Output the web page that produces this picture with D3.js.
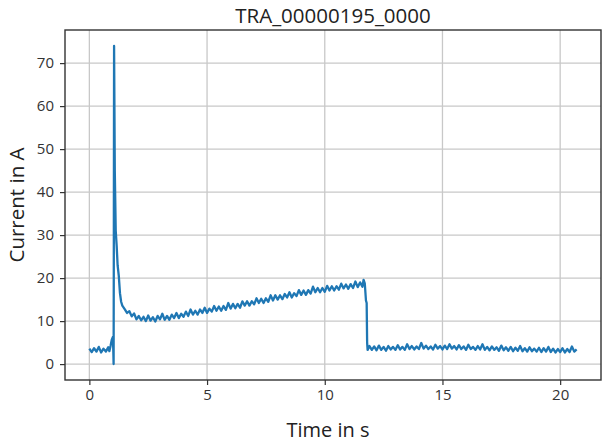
<!DOCTYPE html>
<html>
  <head>
    <meta charset="utf-8">
    <title>TRA_00000195_0000</title>
    <script src="https://d3js.org/d3.v7.min.js"></script>
    <style>
      body { margin: 0; background: #fff; }
      svg { display: block; font-family: "Open Sans", sans-serif; }
      .tick text { fill: #333; font-size: 15px; }
      .grid line { stroke: #c8c8c8; stroke-width: 1.3; }
    </style>
  </head>
  <body>
    <div id="chart"></div>
    <script>
      // chart texts
      var titleText = "TRA_00000195_0000";
      var xLabel = "Time in s";
      var yLabel = "Current in A";
      var xTicks = [0, 5, 10, 15, 20];
      var yTicks = [0, 10, 20, 30, 40, 50, 60, 70];

      var idle = [
        [0.0, 3.6], [0.1, 2.8], [0.2, 3.7], [0.3, 2.9], [0.4, 4.0], [0.5, 2.7],
        [0.6, 3.6], [0.7, 2.9], [0.8, 3.9], [0.85, 3.0], [0.9, 4.2], [0.95, 5.6],
        [1.0, 6.3], [1.02, 2.5], [1.03, 0.0]
      ];
      var inrush = [
        [1.04, 30], [1.05, 74.0], [1.08, 45], [1.12, 31], [1.16, 27.5], [1.2, 23],
        [1.25, 20.5], [1.3, 16.5], [1.35, 14.5], [1.4, 13.6], [1.5, 12.8], [1.6, 11.9],
        [1.7, 12.3], [1.8, 11.1], [1.9, 11.8]
      ];
      var running = [
        [2.0, 10.4], [2.1, 11.2], [2.2, 10.2], [2.3, 11.0], [2.4, 10.0], [2.5, 11.3],
        [2.6, 10.1], [2.7, 10.9], [2.8, 9.9], [2.9, 11.2], [3.0, 10.4], [3.1, 11.7],
        [3.2, 10.3], [3.3, 11.2], [3.4, 10.3], [3.5, 11.5], [3.6, 10.7], [3.7, 11.9],
        [3.8, 10.7], [3.9, 11.7], [4.0, 11.0], [4.1, 12.2], [4.2, 11.2], [4.3, 12.7],
        [4.4, 11.5], [4.5, 12.4], [4.6, 11.5], [4.7, 12.7], [4.8, 11.9], [4.9, 13.1],
        [5.0, 11.9], [5.1, 12.9], [5.2, 12.2], [5.3, 13.5], [5.4, 12.4], [5.5, 13.4],
        [5.6, 12.4], [5.7, 13.5], [5.8, 12.6], [5.9, 14.2], [6.0, 12.9], [6.1, 14.0],
        [6.2, 13.0], [6.3, 14.0], [6.4, 13.1], [6.5, 14.6], [6.6, 13.6], [6.7, 14.6],
        [6.8, 13.6], [6.9, 14.6], [7.0, 13.9], [7.1, 15.3], [7.2, 14.2], [7.3, 15.2],
        [7.4, 14.2], [7.5, 15.3], [7.6, 14.5], [7.7, 16.0], [7.8, 14.8], [7.9, 16.0],
        [8.0, 15.0], [8.1, 16.0], [8.2, 15.1], [8.3, 16.3], [8.4, 15.5], [8.5, 16.7],
        [8.6, 15.5], [8.7, 16.5], [8.8, 15.8], [8.9, 17.2], [9.0, 16.1], [9.1, 17.1],
        [9.2, 16.1], [9.3, 17.2], [9.4, 16.4], [9.5, 18.0], [9.6, 16.7], [9.7, 17.7],
        [9.8, 16.7], [9.9, 17.7], [10.0, 16.8], [10.1, 18.2], [10.2, 17.1], [10.3, 18.1],
        [10.4, 17.1], [10.5, 18.1], [10.6, 17.3], [10.7, 18.7], [10.8, 17.6], [10.9, 18.5],
        [11.0, 17.5], [11.1, 18.6], [11.2, 17.7], [11.3, 19.2], [11.4, 17.9], [11.5, 19.0],
        [11.6, 18.0], [11.65, 19.6], [11.7, 18.8]
      ];
      var switchOff = [
        [11.75, 14.8], [11.78, 14.2], [11.8, 5.0], [11.82, 3.3]
      ];
      var standby = [
        [11.9, 4.2], [12.0, 3.3], [12.1, 4.1], [12.2, 3.2], [12.3, 4.3], [12.4, 3.3],
        [12.5, 4.0], [12.6, 3.1], [12.7, 4.2], [12.8, 3.4], [12.9, 4.0], [13.0, 3.3],
        [13.1, 4.4], [13.2, 3.4], [13.3, 4.0], [13.4, 3.3], [13.5, 4.6], [13.6, 3.5],
        [13.7, 4.2], [13.8, 3.4], [13.9, 4.1], [14.0, 3.5], [14.1, 4.9], [14.2, 3.6],
        [14.3, 4.3], [14.4, 3.5], [14.5, 4.1], [14.6, 3.4], [14.7, 4.5], [14.8, 3.6],
        [14.9, 4.2], [15.0, 3.4], [15.1, 4.3], [15.2, 3.5], [15.3, 4.6], [15.4, 3.6],
        [15.5, 4.2], [15.6, 3.4], [15.7, 4.4], [15.8, 3.5], [15.9, 4.1], [16.0, 3.3],
        [16.1, 4.5], [16.2, 3.5], [16.3, 4.0], [16.4, 3.3], [16.5, 4.2], [16.6, 3.4],
        [16.7, 4.6], [16.8, 3.3], [16.9, 4.0], [17.0, 3.2], [17.1, 4.1], [17.2, 3.3],
        [17.3, 3.9], [17.4, 3.1], [17.5, 4.3], [17.6, 3.2], [17.7, 3.9], [17.8, 3.1],
        [17.9, 4.0], [18.0, 3.0], [18.1, 3.8], [18.2, 3.1], [18.3, 4.2], [18.4, 3.0],
        [18.5, 3.7], [18.6, 2.9], [18.7, 3.9], [18.8, 3.0], [18.9, 3.6], [19.0, 2.9],
        [19.1, 3.8], [19.2, 2.8], [19.3, 3.7], [19.4, 2.9], [19.5, 4.0], [19.6, 2.8],
        [19.7, 3.6], [19.8, 2.7], [19.9, 3.5], [20.0, 2.8], [20.1, 3.7], [20.2, 2.7],
        [20.3, 3.5], [20.4, 2.8], [20.5, 4.1], [20.6, 2.9], [20.7, 3.4]
      ];
      var trace = idle.concat(inrush, running, switchOff, standby);

      // layout
      var width = 603, height = 443;
      var margin = { top: 30, right: 2, bottom: 63, left: 65 };

      var svg = d3.select("#chart")
        .append("svg")
        .attr("width", width)
        .attr("height", height);

      // matplotlib style 5% padding on both axes
      var xExt = d3.extent(trace, function(d) { return d[0]; });
      var yExt = d3.extent(trace, function(d) { return d[1]; });
      var xPad = (xExt[1] - xExt[0]) * 0.05;
      var yPad = (yExt[1] - yExt[0]) * 0.05;

      var x = d3.scaleLinear()
        .domain([xExt[0] - xPad, xExt[1] + xPad])
        .range([margin.left, width - margin.right]);
      var y = d3.scaleLinear()
        .domain([yExt[0] - yPad, yExt[1] + yPad])
        .range([height - margin.bottom, margin.top]);

      // grid
      var grid = svg.append("g").attr("class", "grid");
      grid.selectAll(".gx")
        .data(xTicks)
        .enter().append("line")
        .attr("x1", function(d) { return x(d); })
        .attr("x2", function(d) { return x(d); })
        .attr("y1", y.range()[0])
        .attr("y2", y.range()[1]);
      grid.selectAll(".gy")
        .data(yTicks)
        .enter().append("line")
        .attr("x1", x.range()[0])
        .attr("x2", x.range()[1])
        .attr("y1", function(d) { return y(d); })
        .attr("y2", function(d) { return y(d); });

      // the trace
      var line = d3.line()
        .x(function(d) { return x(d[0]); })
        .y(function(d) { return y(d[1]); });
      svg.append("path")
        .datum(trace)
        .attr("d", line)
        .attr("fill", "none")
        .attr("stroke", "#1f77b4")
        .attr("stroke-width", 2.3)
        .attr("stroke-linejoin", "round");

      // axes
      var xAxis = svg.append("g")
        .attr("transform", "translate(0," + (height - margin.bottom) + ")")
        .call(d3.axisBottom(x).tickValues(xTicks).tickSize(5).tickPadding(4).tickSizeOuter(0));
      var yAxis = svg.append("g")
        .attr("transform", "translate(" + margin.left + ",0)")
        .call(d3.axisLeft(y).tickValues(yTicks).tickSize(5).tickPadding(6).tickSizeOuter(0));
      [xAxis, yAxis].forEach(function(a) {
        a.select(".domain").remove();
        a.selectAll(".tick line").attr("stroke", "#333").attr("stroke-width", 1.2);
        a.selectAll(".tick text").attr("font-family", "Open Sans, sans-serif");
      });

      // frame
      svg.append("rect")
        .attr("x", x.range()[0])
        .attr("y", y.range()[1])
        .attr("width", x.range()[1] - x.range()[0])
        .attr("height", y.range()[0] - y.range()[1])
        .attr("fill", "none")
        .attr("stroke", "#333")
        .attr("stroke-width", 1.4);

      // title and labels
      svg.append("text")
        .attr("x", (x.range()[0] + x.range()[1]) / 2)
        .attr("y", 23)
        .attr("text-anchor", "middle")
        .attr("font-size", 20.5)
        .attr("fill", "#222")
        .text(titleText);
      svg.append("text")
        .attr("x", 328)
        .attr("y", 437)
        .attr("text-anchor", "middle")
        .attr("font-size", 20)
        .attr("fill", "#222")
        .text(xLabel);
      svg.append("text")
        .attr("transform", "translate(24," + ((y.range()[0] + y.range()[1]) / 2) + ") rotate(-90)")
        .attr("text-anchor", "middle")
        .attr("font-size", 20.5)
        .attr("fill", "#222")
        .text(yLabel);
    </script>
  </body>
</html>
